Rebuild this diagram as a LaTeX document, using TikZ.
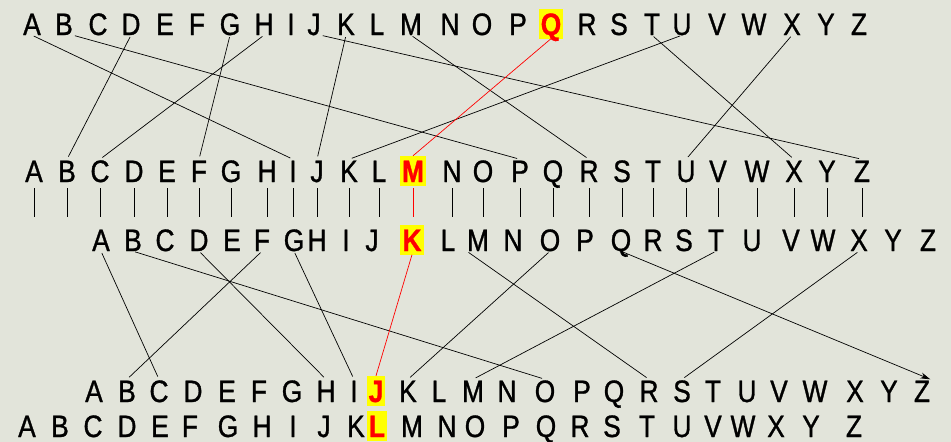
\documentclass[tikz,border=0pt]{standalone}
\usepackage{fontspec}
\usetikzlibrary{arrows.meta}
\newfontfamily\lettfont[FakeStretch=0.85,FakeBold=1]{Liberation Sans}
\definecolor{bgc}{RGB}{226,228,218}
\definecolor{hlyellow}{RGB}{255,255,0}
\begin{document}
\begin{tikzpicture}[x=1pt,y=-1pt,
  letter/.style={font=\lettfont\fontsize{31}{33}\selectfont, inner sep=0pt, text height=22.5pt, text depth=0pt, anchor=base},
  hl/.style={letter, font=\lettfont\fontsize{31}{33}\selectfont\bfseries, fill=hlyellow, text=red, inner xsep=2pt, inner ysep=3.5pt},
  conn/.style={draw=black, line width=0.7pt, shorten <=2pt, shorten >=3pt},
  redconn/.style={draw=red, line width=0.7pt},
  bar/.style={draw=black, line width=0.8pt},
  redbar/.style={draw=red, line width=0.8pt}]
\useasboundingbox[fill=bgc] (0,0) rectangle (951,442);
% row 1
\foreach \l/\x in {A/32,B/64,C/98,D/131,E/165,F/197,G/230,H/264,I/291,J/314,K/346,L/377,M/411,N/450,O/482,P/518,R/587,S/619,T/652,U/682,V/717,W/754,X/792,Y/826,Z/859}
  \node[letter] (r1\l) at (\x,35) {\l};
\node[hl] (r1Q) at (551,35) {Q};
% row 2
\foreach \l/\x in {A/34,B/67,C/100,D/134,E/167,F/199,G/231,H/267,I/293,J/317,K/349,L/379,N/452,O/483,P/520,Q/553,R/589,S/622,T/653,U/686,V/718,W/757,X/794,Y/827,Z/862}
  \node[letter] (r2\l) at (\x,182) {\l};
\node[hl] (r2M) at (413,182) {M};
% row 3
\foreach \l/\x in {A/101,B/133,C/165,D/199,E/232,F/262,G/294,H/317,I/346,J/372,L/448,M/478,N/513,O/550,P/585,Q/621,R/653,S/684,T/716,U/752,V/791,W/823,X/859,Y/893,Z/928}
  \node[letter] (r3\l) at (\x,251) {\l};
\node[hl] (r3K) at (412,251) {K};
% row 4
\foreach \l/\x in {A/94,B/127,C/159,D/193,E/227,F/259,G/292,H/326,I/354,K/408,L/439,M/473,N/507,O/545,P/582,Q/614,R/649,S/682,T/713,U/747,V/779,W/815,X/855,Y/889,Z/922}
  \node[letter] (r4\l) at (\x,402) {\l};
\node[hl] (r4J) at (376,402) {J};
% row 5
\foreach \l/\x in {A/27,B/60,C/93,D/127,E/160,F/190,G/228,H/262,I/293,J/324,K/356,M/412,N/447,O/475,P/511,Q/546,R/580,S/612,T/647,U/682,V/713,W/743,X/776,Y/811,Z/854}
  \node[letter] (r5\l) at (\x,437) {\l};
\node[hl] (r5L) at (377,437) {L};
% bars between row 2 and row 3
\foreach \l in {A,B,C,D,E,F,G,H,I,J,K,L,N,O,P,Q,R,S,T,U,V,W,X,Y,Z}
  \draw[bar] ([yshift=-6pt]r2\l.base) -- ++(0,-29pt);
\draw[redbar] ([yshift=-6pt]r2M.base) -- ++(0,-29pt);
% wiring row 1 -> row 2
\draw[conn] (r1A.south) -- (r2I.north);
\draw[conn] (r1B.south east) -- (r2P.north);
\draw[conn] (r1D.south) -- (r2B.north);
\draw[conn] (r1G.south) -- (r2F.north);
\draw[conn] (r1H.south) -- (r2C.north);
\draw[conn] (r1J.south east) -- (r2Z.north);
\draw[conn] (r1K.south) -- (r2J.north);
\draw[conn] (r1M.south) -- (r2R.north);
\draw[conn] (r1T.south) -- (r2X.north);
\draw[conn] (r1U.south) -- (r2K.north);
\draw[conn] (r1X.south) -- (r2U.north);
\draw[redconn] (r1Q.south) -- (r2M.north);
% wiring row 3 -> row 4
\draw[conn] (r3A.south) -- (r4C.north);
\draw[conn] (r3B.south) -- (r4O.north);
\draw[conn] (r3D.south) -- (r4H.north);
\draw[conn] (r3F.south) -- (r4B.north);
\draw[conn] (r3G.south) -- (r4I.north);
\draw[conn] (r3M.south west) -- (r4R.north);
\draw[conn] (r3O.south) -- (r4K.north);
\draw[conn, shorten >=0pt, -{Stealth[length=10pt,width=6pt]}] (r3Q.south) -- (r4Z.north east);
\draw[conn] (r3T.south) -- (r4M.north);
\draw[conn] (r3X.south) -- (r4S.north);
\draw[redconn] (r3K.south) -- (r4J.north);
\end{tikzpicture}
\end{document}
